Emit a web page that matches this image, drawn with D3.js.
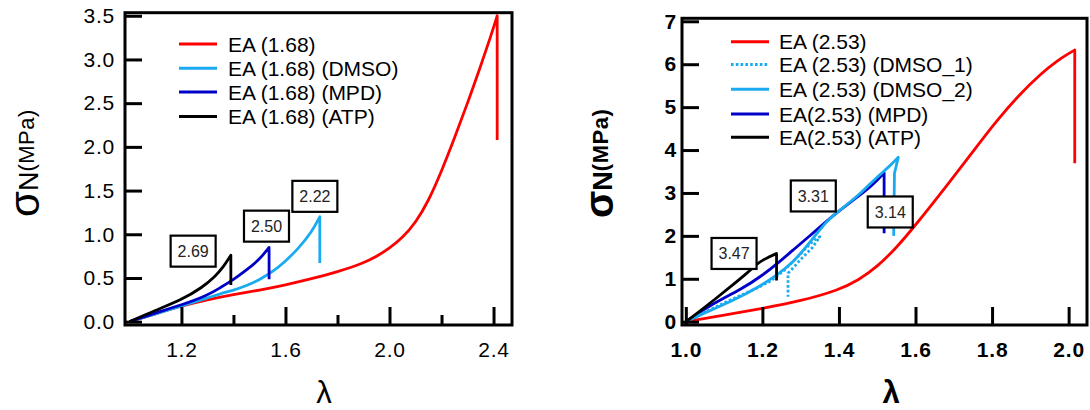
<!DOCTYPE html>
<html><head><meta charset="utf-8">
<script src="https://cdn.jsdelivr.net/npm/d3@7"></script>
<style>
body{margin:0;background:#fff}
text{font-family:"Liberation Sans",Arial,sans-serif;fill:#000}
</style>
</head><body>
<svg id="c" width="1090" height="410"></svg>
<script>
// ---------- data ----------
const leftXTicks = [1.2, 1.6, 2.0, 2.4];
const leftXMinor = [1.4, 1.8, 2.2];
const leftYTicks = [0, 0.5, 1.0, 1.5, 2.0, 2.5, 3.0, 3.5];
const rightXTicks = [1.0, 1.2, 1.4, 1.6, 1.8, 2.0];
const rightYTicks = [0, 1, 2, 3, 4, 5, 6, 7];

const leftNames = ["EA (1.68)", "EA (1.68) (DMSO)", "EA (1.68) (MPD)", "EA (1.68) (ATP)"];
const rightNames = ["EA (2.53)", "EA (2.53) (DMSO_1)", "EA (2.53) (DMSO_2)", "EA(2.53) (MPD)", "EA(2.53) (ATP)"];

// left panel series [lambda, sigma]
const leftEA = [[1.0,0],[1.1,0.09],[1.2,0.18],[1.3,0.25],[1.4,0.31],[1.5,0.36],[1.6,0.42],[1.7,0.49],[1.8,0.57],[1.9,0.67],[1.95,0.745],[2.0,0.84],[2.05,0.96],[2.1,1.13],[2.15,1.38],[2.2,1.72],[2.25,2.1],[2.3,2.5],[2.35,2.92],[2.39,3.27],[2.414,3.5],[2.414,2.08]];
const leftDMSO = [[1.0,0],[1.1,0.09],[1.2,0.18],[1.3,0.27],[1.35,0.32],[1.4,0.36],[1.45,0.41],[1.5,0.48],[1.55,0.57],[1.6,0.69],[1.65,0.84],[1.7,1.02],[1.732,1.2],[1.732,0.67]];
const leftMPD = [[1.0,0],[1.1,0.1],[1.2,0.19],[1.3,0.3],[1.35,0.39],[1.4,0.48],[1.45,0.59],[1.5,0.71],[1.537,0.85],[1.537,0.485]];
const leftATP = [[1.0,0],[1.1,0.13],[1.2,0.25],[1.28,0.39],[1.33,0.52],[1.36,0.62],[1.39,0.76],[1.39,0.42]];

// right panel series
const rightEA = [[1.0,0],[1.1,0.15],[1.2,0.31],[1.3,0.48],[1.4,0.74],[1.45,0.96],[1.5,1.28],[1.55,1.72],[1.6,2.25],[1.68,3.15],[1.76,4.08],[1.81,4.66],[1.87,5.28],[1.93,5.8],[1.97,6.08],[2.0,6.25],[2.016,6.33],[2.016,3.69]];
const rightDMSO1 = [[1.0,0],[1.05,0.22],[1.1,0.44],[1.15,0.64],[1.2,0.84],[1.23,0.99],[1.26,1.22],[1.3,1.58],[1.333,1.9],[1.35,1.98],[1.33,1.72],[1.3,1.45],[1.28,1.25],[1.267,1.13],[1.267,0.58]];
const rightDMSO2 = [[1.0,0],[1.06,0.25],[1.12,0.48],[1.19,0.8],[1.24,1.1],[1.28,1.38],[1.32,1.8],[1.35,2.15],[1.38,2.45],[1.42,2.72],[1.46,3.02],[1.5,3.38],[1.53,3.6],[1.555,3.83],[1.545,3.46],[1.543,2.0]];
const rightMPD = [[1.0,0],[1.06,0.37],[1.15,0.78],[1.2,1.08],[1.24,1.36],[1.28,1.67],[1.32,1.97],[1.37,2.36],[1.40,2.58],[1.455,2.95],[1.49,3.2],[1.518,3.47],[1.518,2.06]];
const rightATP = [[1.0,0],[1.04,0.27],[1.08,0.55],[1.12,0.84],[1.16,1.13],[1.192,1.40],[1.215,1.5],[1.237,1.59],[1.237,0.96]];

// annotation labels and their box centres [lambda, sigma]
const leftNotes = ["2.69", "2.50", "2.22"];
const leftNoteAt = [[1.245,0.807],[1.527,1.093],[1.713,1.434]];
const rightNotes = ["3.47", "3.31", "3.14"];
const rightNoteAt = [[1.126,1.59],[1.333,2.93],[1.534,2.557]];

// ---------- styles ----------
const RED = "#ff0000", LBLUE = "#1aaaf0", DBLUE = "#0000c8", BLACK = "#000000";

const svg = d3.select("#c");

function panel(cfg){
  const x = d3.scaleLinear().domain(cfg.xd).range(cfg.xr);
  const y = d3.scaleLinear().domain(cfg.yd).range(cfg.yr);
  const g = svg.append("g");
  const fw = cfg.bold ? "bold" : "normal";

  const clipId = "clip" + cfg.id;
  svg.append("clipPath").attr("id", clipId).append("rect")
    .attr("x", cfg.xr[0]).attr("y", cfg.yr[1]).attr("width", cfg.xr[1]-cfg.xr[0]).attr("height", cfg.yr[0]-cfg.yr[1]);

  // series
  const lineGen = d3.line().x(d=>x(d[0])).y(d=>y(d[1])).curve(d3.curveBasis);
  const sg = g.append("g").attr("clip-path", `url(#${clipId})`);
  cfg.series.forEach(s=>{
    const pk = d3.maxIndex(s.data, d=>d[1]);
    let p = lineGen(s.data.slice(0, pk+1));
    s.data.slice(pk+1).forEach(d=>{ p += `L${x(d[0])},${y(d[1])}`; });
    sg.append("path").attr("d", p).attr("fill","none").attr("stroke", s.color)
      .attr("stroke-width", 2.8).attr("stroke-linejoin","round")
      .attr("stroke-dasharray", s.dash || null);
  });

  // annotation boxes
  cfg.notes.forEach((t,i)=>{
    const cx = x(cfg.noteAt[i][0]), cy = y(cfg.noteAt[i][1]);
    g.append("rect").attr("x", cx-22.5).attr("y", cy-15.5).attr("width", 45).attr("height", 31)
      .attr("fill","#fff").attr("stroke","#000").attr("stroke-width",2.2);
    g.append("text").attr("x", cx).attr("y", cy).attr("dy","0.36em").attr("text-anchor","middle")
      .style("font-size","16px").style("fill","#222").text(t);
  });

  // axes
  const xa = g.append("g").attr("transform", `translate(0,${cfg.yr[0]})`)
    .call(d3.axisBottom(x).tickValues(cfg.xt).tickSize(-18).tickSizeOuter(0).tickPadding(17.5).tickFormat(d3.format(".1f")));
  if (cfg.xm) {
    g.append("g").attr("transform", `translate(0,${cfg.yr[0]})`)
      .call(d3.axisBottom(x).tickValues(cfg.xm).tickSize(-10).tickSizeOuter(0).tickFormat(""));
  }
  const ya = g.append("g").attr("transform", `translate(${cfg.xr[0]},0)`)
    .call(d3.axisLeft(y).tickValues(cfg.yt).tickSize(-17).tickSizeOuter(0).tickPadding(cfg.ypad).tickFormat(cfg.yfmt));
  g.selectAll(".domain").remove();
  g.selectAll(".tick line").attr("stroke","#000").attr("stroke-width",3);
  [xa, ya].forEach(a=>a.selectAll("text").attr("fill","#000")
    .style("font-family",'"Liberation Sans",Arial,sans-serif').style("font-size","21px")
    .style("font-weight", fw).style("letter-spacing","0.8px"));

  // frame
  g.append("rect").attr("x", cfg.xr[0]).attr("y", cfg.yr[1]).attr("width", cfg.xr[1]-cfg.xr[0]).attr("height", cfg.yr[0]-cfg.yr[1])
    .attr("fill","none").attr("stroke","#000").attr("stroke-width",3);

  // legend
  cfg.names.forEach((n,i)=>{
    const ly = cfg.legY[i];
    const s = cfg.series[cfg.legOrder[i]];
    g.append("line").attr("x1", cfg.legX[0]).attr("x2", cfg.legX[1]).attr("y1", ly).attr("y2", ly)
      .attr("stroke", s.color).attr("stroke-width", 3)
      .attr("stroke-dasharray", s.dash ? "2.6,2.2" : null);
    g.append("text").attr("x", cfg.legX[2]).attr("y", ly + 7.6).style("font-size","21px").text(n);
  });

  // axis titles
  const yt = g.append("text").attr("transform", `translate(${cfg.ytx},${cfg.yty}) rotate(-90)`)
    .style("font-weight", fw);
  yt.append("tspan").style("font-size", cfg.sigSize + "px").text("σ");
  yt.append("tspan").style("font-size","27px").attr("dy", -1).text("N");
  yt.append("tspan").style("font-size","22px").attr("dy", -4).style("letter-spacing","0.5px").text("(MPa)");

  g.append("text").attr("x", cfg.lamX).attr("y", 403).attr("text-anchor","middle")
    .style("font-size","31px").style("font-weight", fw).text("λ");
}

panel({
  id: "L", xd: [0.983, 2.471], xr: [125, 512], yd: [-0.038, 3.535], yr: [325, 12.7],
  xt: leftXTicks, xm: leftXMinor, yt: leftYTicks, ypad: 10, yfmt: d3.format(".1f"), bold: false,
  series: [
    {data: leftEA, color: RED},
    {data: leftDMSO, color: LBLUE},
    {data: leftMPD, color: DBLUE},
    {data: leftATP, color: BLACK}
  ],
  legOrder: [0,1,2,3],
  names: leftNames, legX: [179, 217, 228], legY: [44, 68.3, 92, 116.5],
  notes: leftNotes, noteAt: leftNoteAt,
  ytx: 39, yty: 217, sigSize: 42, lamX: 324
});

panel({
  id: "R", xd: [0.99, 2.048], xr: [682, 1087], yd: [-0.077, 7.07], yr: [325, 18.3],
  xt: rightXTicks, xm: null, yt: rightYTicks, ypad: 5, yfmt: d3.format("d"), bold: true,
  series: [
    {data: rightEA, color: RED},
    {data: rightMPD, color: DBLUE},
    {data: rightDMSO1, color: LBLUE, dash: "2.6,2.2"},
    {data: rightDMSO2, color: LBLUE},
    {data: rightATP, color: BLACK}
  ],
  legOrder: [0,2,3,1,4],
  names: rightNames, legX: [731, 769, 779], legY: [41.7, 64.5, 89.3, 114, 137.3],
  notes: rightNotes, noteAt: rightNoteAt,
  ytx: 613, yty: 218, sigSize: 40, lamX: 891
});
</script>
</body></html>
